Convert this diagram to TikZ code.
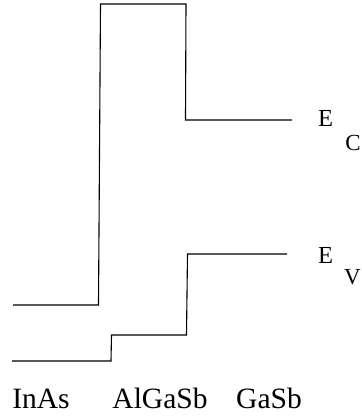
\documentclass[tikz,border=0pt]{standalone}
\usepackage{fontspec}
\setmainfont{Liberation Serif}
\begin{document}
\begin{tikzpicture}[x=1pt,y=-1pt,
  band/.style={line width=1.1pt, line join=miter},
  mat/.style={font=\fontsize{29.5}{32}\selectfont, anchor=base, inner sep=0pt},
  lbl/.style={font=\fontsize{24.5}{28}\selectfont, anchor=base west, inner sep=0pt},
  sublbl/.style={font=\fontsize{23}{26}\selectfont, anchor=base east, inner sep=0pt}]
\useasboundingbox (0,0) rectangle (362,416);
% conduction band
\coordinate (c0) at (13,305);
\coordinate (c1) at (98.5,305);
\coordinate (c2) at (100.5,4);
\coordinate (c3) at (186,4);
\coordinate (c4) at (185.5,120);
\coordinate (c5) at (292,120);
\draw[band] (c0) -- (c1) -- (c2) -- (c3) -- (c4) -- (c5);
% valence band
\coordinate (v0) at (12,361);
\coordinate (v1) at (111,361);
\coordinate (v2) at (111.5,335);
\coordinate (v3) at (186.5,335);
\coordinate (v4) at (187.5,254);
\coordinate (v5) at (287,254);
\draw[band] (v0) -- (v1) -- (v2) -- (v3) -- (v4) -- (v5);
% labels
\node[lbl] (ec) at (318,126.5) {E};
\node[sublbl] (ecs) at (361,150) {C};
\node[lbl] (ev) at (318,263) {E};
\node[sublbl] (evs) at (361,284) {V};
\node[mat] (inas) at (41,408) {InAs};
\node[mat] (algasb) at (160,408) {AlGaSb};
\node[mat] (gasb) at (269,408) {GaSb};
\end{tikzpicture}
\end{document}
